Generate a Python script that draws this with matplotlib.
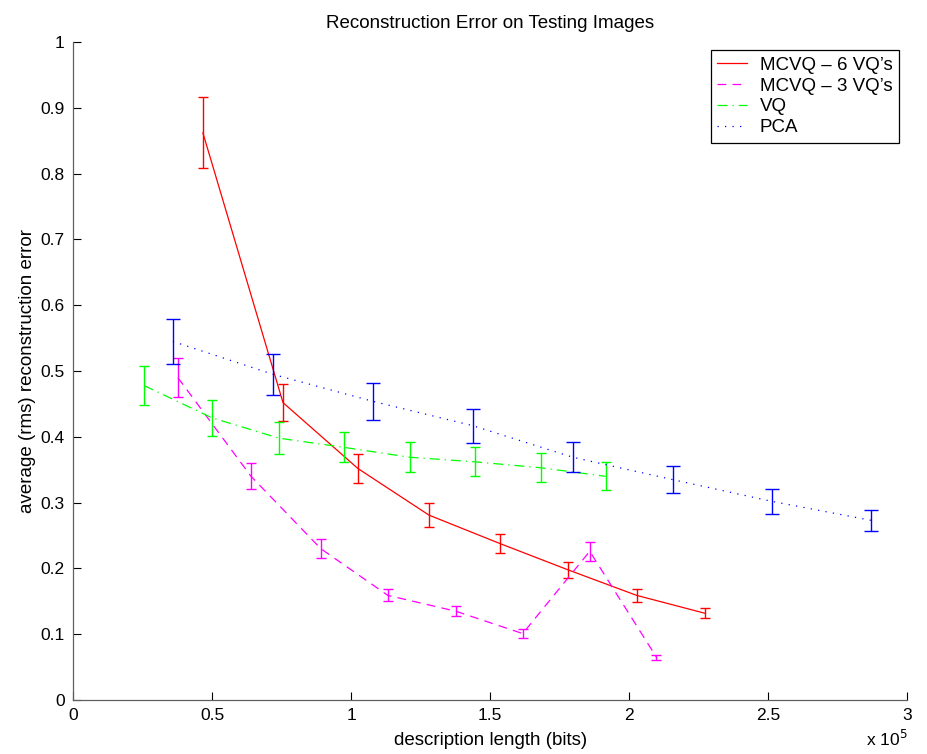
import numpy as np
import matplotlib.pyplot as plt
from matplotlib.ticker import FuncFormatter

FS = 13.5
plt.rcParams['font.family'] = ['Liberation Sans', 'DejaVu Sans']

# description length in units of 1e5 bits
x_mcvq6 = [0.467, 0.755, 1.024, 1.280, 1.534, 1.779, 2.027, 2.271]
y_mcvq6 = [0.862, 0.452, 0.352, 0.281, 0.238, 0.198, 0.159, 0.132]
e_mcvq6 = [0.054, 0.028, 0.022, 0.018, 0.015, 0.012, 0.010, 0.008]

x_mcvq3 = [0.377, 0.640, 0.891, 1.132, 1.376, 1.617, 1.858, 2.098]
y_mcvq3 = [0.490, 0.340, 0.230, 0.159, 0.135, 0.101, 0.226, 0.065]
e_mcvq3 = [0.030, 0.020, 0.014, 0.009, 0.008, 0.007, 0.014, 0.004]

x_vq = [0.255, 0.499, 0.740, 0.974, 1.211, 1.445, 1.682, 1.915]
y_vq = [0.478, 0.429, 0.398, 0.384, 0.369, 0.362, 0.353, 0.340]
e_vq = [0.030, 0.027, 0.024, 0.023, 0.023, 0.022, 0.022, 0.021]

x_pca = [0.359, 0.719, 1.078, 1.437, 1.797, 2.156, 2.512, 2.871]
y_pca = [0.545, 0.495, 0.454, 0.417, 0.369, 0.335, 0.302, 0.273]
e_pca = [0.034, 0.031, 0.028, 0.026, 0.023, 0.021, 0.019, 0.016]

series = [
    (x_mcvq6, y_mcvq6, e_mcvq6, '#ff0000', '-', u'MCVQ \u2013 6 VQ\u2019s', 3.6),
    (x_mcvq3, y_mcvq3, e_mcvq3, '#ff00ff', (0, (7, 5)), u'MCVQ \u2013 3 VQ\u2019s', 3.6),
    (x_vq, y_vq, e_vq, '#00ff00', (0, (8, 4, 1, 4)), 'VQ', 3.9),
    (x_pca, y_pca, e_pca, '#0000ff', (0, (1, 5)), 'PCA', 4.7),
]

fig = plt.figure(figsize=(9.28, 7.54), dpi=100)
ax = fig.add_axes([0.0787, 0.0716, 0.899, 0.8726])

for x, y, e, c, ls, lab, cap in series:
    ax.plot(x, y, color=c, linestyle=ls, lw=0.9, label=lab)
    ax.errorbar(x, y, yerr=e, fmt='none', ecolor=c, elinewidth=1.0,
                capsize=cap, capthick=1.0)

ax.set_xlim(0, 3)
ax.set_ylim(0, 1)
ax.set_xticks(np.arange(0, 3.01, 0.5))
ax.set_yticks(np.arange(0, 1.01, 0.1))
fmt = FuncFormatter(lambda v, p: '%g' % round(v, 2))
ax.xaxis.set_major_formatter(fmt)
ax.yaxis.set_major_formatter(fmt)
ax.tick_params(direction='in', length=6, width=0.8, labelsize=12.5, pad=6)
ax.spines['top'].set_visible(False)
ax.spines['right'].set_visible(False)
for s in ('left', 'bottom'):
    ax.spines[s].set_linewidth(0.9)
    ax.spines[s].set_color('#606060')

ax.set_title("Reconstruction Error on Testing Images", fontsize=FS, pad=10)
ax.set_xlabel("description length (bits)", fontsize=FS, labelpad=6)
ax.set_ylabel("average (rms) reconstruction error", fontsize=FS, labelpad=3)
fig.text(0.933, 0.006, r'x 10$^5$', fontsize=FS - 1, ha='left', va='bottom')

leg = ax.legend(loc='upper right', bbox_to_anchor=(0.990, 0.988), fontsize=FS,
                fancybox=False, framealpha=1, edgecolor='black',
                handlelength=1.6, handletextpad=0.65, borderpad=0.35,
                labelspacing=0.2, borderaxespad=0)
leg.get_frame().set_linewidth(0.9)

plt.savefig("out.png", dpi=100)
